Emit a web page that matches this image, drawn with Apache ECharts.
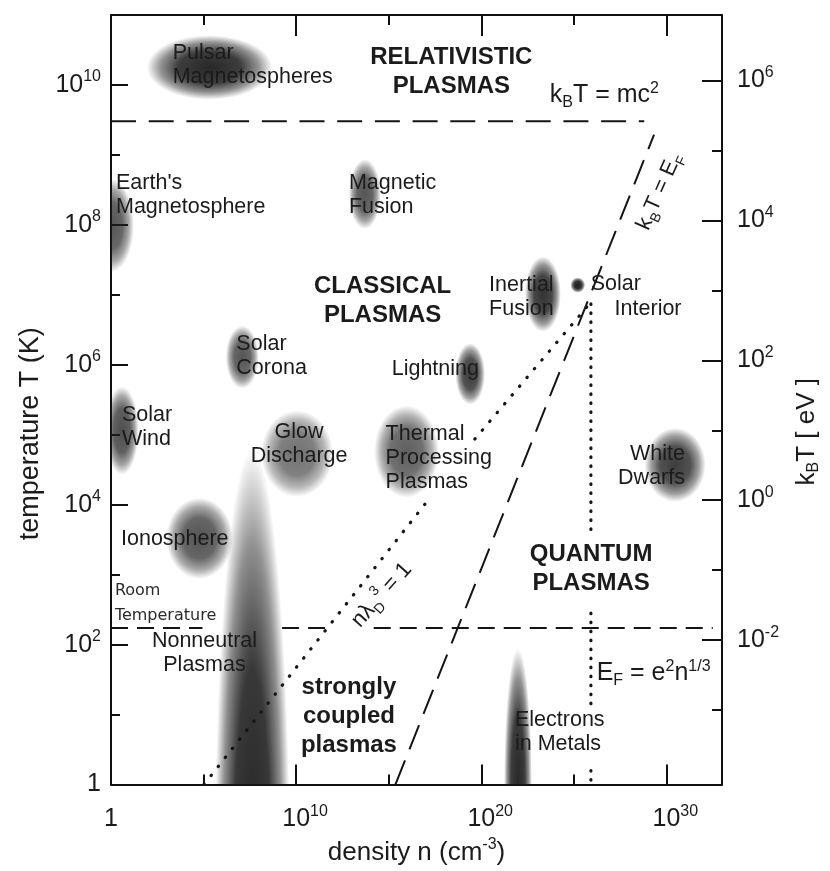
<!DOCTYPE html>
<html><head><meta charset="utf-8">
<script src="https://cdn.jsdelivr.net/npm/echarts@6/dist/echarts.min.js"></script>
<style>html,body{margin:0;padding:0;background:#fff}#c{width:830px;height:871px}</style>
</head><body><div id="c"></div>
<script>
// ---------- data (all values in log10 units) ----------
const xRange = [0, 33];                 // log10 density n (cm^-3)
const yRange = [0, 11];                 // log10 temperature T (K)
const eVShift = Math.log10(11604.5);    // log10(K per eV)
const xMajor = [10, 20, 30];
const xMinor = [5, 15, 25];
const xLabels = [0, 10, 20, 30];
const yMajor = [0, 2, 4, 6, 8, 10];
const yMinor = [1, 3, 5, 7, 9];
const eVMajor = [-2, 0, 2, 4, 6];
const eVMinor = [-3, -1, 1, 3, 5];

// plasma regions: [name, log n, log T, half extent in n (decades), half extent in T (decades)]
const regions = [
  ['Pulsar Magnetospheres', 5.32, 10.25, 3.39, 0.46],
  ["Earth's Magnetosphere", 0.0, 7.99, 1.24, 0.67],
  ['Magnetic Fusion', 13.71, 8.44, 0.86, 0.50],
  ['Inertial Fusion', 23.33, 7.01, 0.97, 0.54],
  ['Solar Interior', 25.21, 7.14, 0.40, 0.11],
  ['Solar Corona', 7.09, 6.11, 0.89, 0.45],
  ['Lightning', 19.40, 5.87, 0.80, 0.44],
  ['Solar Wind', 0.59, 5.06, 0.90, 0.63],
  ['Glow Discharge', 10.05, 4.73, 1.95, 0.62],
  ['Thermal Processing Plasmas', 15.96, 4.76, 1.75, 0.66],
  ['White Dwarfs', 30.47, 4.57, 1.65, 0.53],
  ['Ionosphere', 4.78, 3.52, 1.80, 0.58],
  ['Nonneutral Plasmas', 7.63, -1.5, 2.05, 6.3],
  ['Electrons in Metals', 21.98, 0.0, 0.75, 1.95]
];
const regionShade = {
  'Pulsar Magnetospheres': 0.95, "Earth's Magnetosphere": 0.75, 'Magnetic Fusion': 0.75,
  'Inertial Fusion': 0.9, 'Solar Interior': 1.0, 'Solar Corona': 0.75, 'Lightning': 0.85,
  'Solar Wind': 0.78, 'Glow Discharge': 0.62, 'Thermal Processing Plasmas': 0.7,
  'White Dwarfs': 0.85, 'Ionosphere': 0.75, 'Nonneutral Plasmas': 0.97, 'Electrons in Metals': 0.95
};

// boundary lines: [[log n, log T], ...]
const relativisticLine = [[[0, 9.48], [28.8, 9.48]]];                       // kBT = mc^2
const roomTempLine = [[[0, 2.237], [4.94, 2.237]], [[9.24, 2.237], [11.66, 2.237]], [[14.19, 2.237], [32.5, 2.237]]];
const fermiLine = [[[15.36, 0], [29.33, 9.29]]];                             // kBT = EF
const debyeLine = [[[5.02, 0], [17.14, 4.07]], [[19.65, 4.94], [25.84, 6.87]]]; // n lambdaD^3 = 1
const couplingLine = [[[25.92, 6.87], [25.92, 3.54]], [[25.92, 2.45], [25.92, 1.14]], [[25.92, 0.2], [25.92, 0]]]; // EF = e^2 n^1/3

// text annotations: [log n, log T, text]
const leftLabels = [
  [3.33, 10.29, 'Pulsar\nMagnetospheres'],
  [0.27, 8.42, "Earth's\nMagnetosphere"],
  [12.85, 8.42, 'Magnetic\nFusion'],
  [20.42, 6.97, 'Inertial\nFusion'],
  [25.91, 7.15, 'Solar'],
  [27.20, 6.80, 'Interior'],
  [6.77, 6.13, 'Solar\nCorona'],
  [15.16, 5.94, 'Lightning'],
  [0.59, 5.11, 'Solar\nWind'],
  [14.83, 4.66, 'Thermal\nProcessing\nPlasmas'],
  [0.54, 3.51, 'Ionosphere'],
  [21.82, 0.75, 'Electrons\nin Metals']
];
const centerLabels = [
  [10.16, 4.87, 'Glow\nDischarge'],
  [5.05, 1.88, 'Nonneutral\nPlasmas']
];
const rightLabels = [
  [31.0, 4.55, 'White\nDwarfs']
];
const boldLabels = [
  [18.38, 10.19, 'RELATIVISTIC\nPLASMAS'],
  [14.67, 6.92, 'CLASSICAL\nPLASMAS'],
  [12.85, 0.98, 'strongly\ncoupled\nplasmas'],
  [25.93, 3.08, 'QUANTUM\nPLASMAS']
];
const noteLabels = [
  [0.21, 2.59, 'Room\nTemperature']
];
const formulaLabels = [
  [23.70, 9.85, '{n|k}{b|B}{n|T = mc}{p|2}'],
  [26.23, 1.59, '{n|E}{b|F}{n| = e}{p|2}{n|n}{p|1/3}']
];
const slantedLabels = [
  [29.62, 8.48, '{n|k}{b|B}{n|T = E}{b|F}'],
  [14.62, 2.71, '{n|nλ}{b|D}{p|3}{n| = 1}']
];
const slantAngles = [66, 48];

// ---------- rendering ----------
const FONT = 'Liberation Sans, Arial, Helvetica, sans-serif';
const INK = '#1b1b1b';
const chart = echarts.init(document.getElementById('c'), null, {renderer: 'canvas'});

const richTick = {
  b: {fontSize: 25, fontFamily: FONT, color: INK, lineHeight: 32},
  s: {fontSize: 16, fontFamily: FONT, color: INK, lineHeight: 12, verticalAlign: 'top'},
  h: {fontSize: 16, fontFamily: FONT, color: 'rgba(0,0,0,0)', lineHeight: 12, verticalAlign: 'top'}
};
const richFormula = (fs) => ({
  n: {fontSize: fs, fontFamily: FONT, color: INK, lineHeight: 30},
  b: {fontSize: Math.round(fs * 0.62), fontFamily: FONT, color: INK, lineHeight: 8, verticalAlign: 'bottom'},
  p: {fontSize: Math.round(fs * 0.62), fontFamily: FONT, color: INK, lineHeight: 14, verticalAlign: 'top'}
});

function axisBase(extra) {
  return Object.assign({
    type: 'value', splitLine: {show: false}, axisPointer: {show: false},
    axisLine: {show: false, onZero: false, lineStyle: {color: '#111', width: 2}},
    axisTick: {show: false}, axisLabel: {show: false}
  }, extra);
}
function ticks(values, len) {
  return {show: true, inside: true, length: len, customValues: values, lineStyle: {color: '#111', width: 2}};
}

const xAxes = [
  axisBase({position: 'bottom', min: xRange[0], max: xRange[1],
    axisLine: {show: true, onZero: false, lineStyle: {color: '#111', width: 2}},
    axisTick: ticks(xMajor, 20),
    axisLabel: {show: true, customValues: xLabels, margin: 19, rich: richTick,
      formatter: v => v === 0 ? '{b|1}' : '{h|' + v + '}{b|10}{s|' + v + '}'},
    name: '{n|density n (cm}{s|-3}{n|)}', nameLocation: 'middle', nameGap: 40,
    nameTextStyle: {rich: {
      n: {fontSize: 26, fontFamily: FONT, color: INK, lineHeight: 32},
      s: {fontSize: 16, fontFamily: FONT, color: INK, lineHeight: 12, verticalAlign: 'top'}}}
  }),
  axisBase({position: 'bottom', min: xRange[0], max: xRange[1], axisTick: ticks(xMinor, 10)}),
  axisBase({position: 'top', min: xRange[0], max: xRange[1],
    axisLine: {show: true, onZero: false, lineStyle: {color: '#111', width: 2}},
    axisTick: ticks(xMajor, 21)}),
  axisBase({position: 'top', min: xRange[0], max: xRange[1], axisTick: ticks(xMinor, 10)})
];
const yAxes = [
  axisBase({position: 'left', min: yRange[0], max: yRange[1],
    axisLine: {show: true, onZero: false, lineStyle: {color: '#111', width: 2}},
    axisTick: ticks(yMajor, 17),
    axisLabel: {show: true, customValues: yMajor, margin: 10, rich: richTick,
      formatter: v => v === 0 ? '{b|1}' : '{b|10}{s|' + v + '}'},
    name: 'temperature T (K)', nameLocation: 'middle', nameGap: 67, nameRotate: 90,
    nameTextStyle: {fontSize: 27, fontFamily: FONT, color: INK, padding: [0, 68, 0, 0]}
  }),
  axisBase({position: 'left', min: yRange[0], max: yRange[1], axisTick: ticks(yMinor, 9)}),
  axisBase({position: 'right', min: yRange[0] - eVShift, max: yRange[1] - eVShift,
    axisLine: {show: true, onZero: false, lineStyle: {color: '#111', width: 2}},
    axisTick: ticks(eVMajor, 20),
    axisLabel: {show: true, customValues: eVMajor, margin: 15, rich: richTick,
      formatter: v => '{b|10}{s|' + v + '}'},
    name: '{n|k}{b|B}{n|T [ eV ]}', nameLocation: 'middle', nameGap: 70, nameRotate: 90,
    nameTextStyle: {padding: [0, 64, 0, 0], rich: richFormula(26)}
  }),
  axisBase({position: 'right', min: yRange[0] - eVShift, max: yRange[1] - eVShift, axisTick: ticks(eVMinor, 10)})
];

function regionItem(params, api) {
  const r = regions[params.dataIndex];
  const c = api.coord([r[1], r[2]]);
  const s = api.size([r[3], r[4]]);
  const a = regionShade[r[0]];
  const col = (k) => 'rgba(28,28,28,' + (a * k).toFixed(3) + ')';
  const grad = new echarts.graphic.RadialGradient(0.5, 0.5, 0.5, [
    {offset: 0, color: col(1)}, {offset: 0.5, color: col(0.9)},
    {offset: 0.78, color: col(0.5)}, {offset: 1, color: col(0)}
  ]);
  return {type: 'circle', x: c[0], y: c[1], scaleX: s[0] / s[1],
    shape: {cx: 0, cy: 0, r: s[1]}, style: {fill: grad}};
}

function textSeries(list, style, angles) {
  return {
    type: 'custom', coordinateSystem: 'cartesian2d', xAxisIndex: 0, yAxisIndex: 0, z: 10, silent: true,
    data: list.map(l => [l[0], l[1]]),
    renderItem: (params, api) => {
      const l = list[params.dataIndex];
      const p = api.coord([l[0], l[1]]);
      return {type: 'text', x: p[0], y: p[1],
        rotation: angles ? angles[params.dataIndex] * Math.PI / 180 : 0,
        style: Object.assign({text: l[2], fill: INK, verticalAlign: 'middle'}, style)};
    }
  };
}

function lineSeries(segs, ls) {
  return segs.map(seg => ({
    type: 'line', xAxisIndex: 0, yAxisIndex: 0, data: seg, symbol: 'none', z: 5, silent: true,
    lineStyle: Object.assign({color: '#151515', width: 2}, ls)
  }));
}

const series = [
  {type: 'custom', coordinateSystem: 'cartesian2d', xAxisIndex: 0, yAxisIndex: 0, clip: true, z: 2, silent: true,
   data: regions.map(r => [r[1], r[2]]), renderItem: regionItem},
  ...lineSeries(relativisticLine, {type: [25, 12.7]}),
  ...lineSeries(roomTempLine, {type: [17, 9]}),
  ...lineSeries(fermiLine, {type: [26, 12]}),
  ...lineSeries(debyeLine, {type: [0.5, 11], cap: 'round', width: 3.2}),
  ...lineSeries(couplingLine, {type: [0.5, 8.5], cap: 'round', width: 3.2}),
  textSeries(leftLabels, {align: 'left', font: '21.5px ' + FONT, lineHeight: 24}),
  textSeries(centerLabels, {align: 'center', font: '21.5px ' + FONT, lineHeight: 24}),
  textSeries(rightLabels, {align: 'right', font: '21.5px ' + FONT, lineHeight: 24}),
  textSeries(boldLabels, {align: 'center', font: 'bold 24px ' + FONT, lineHeight: 29}),
  textSeries(noteLabels, {align: 'left', font: '16px DejaVu Sans', lineHeight: 24.5, fill: '#2a2a2a'}),
  textSeries(formulaLabels, {align: 'left', rich: richFormula(25)}),
  textSeries(slantedLabels, {align: 'center', rich: richFormula(22)}, slantAngles)
];

chart.setOption({
  animation: false,
  backgroundColor: '#fff',
  grid: {left: 111, right: 105, top: 15, bottom: 84, containLabel: false},
  xAxis: xAxes,
  yAxis: yAxes,
  series: series
});
</script></body></html>
